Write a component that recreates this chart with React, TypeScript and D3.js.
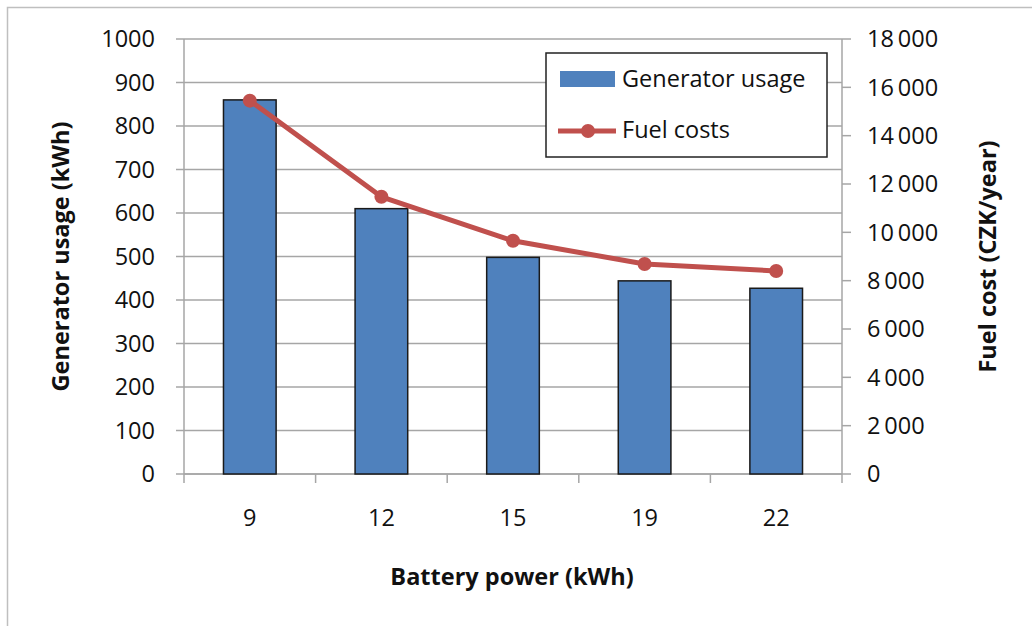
import * as d3 from 'd3';

const BATTERY = ['9', '12', '15', '19', '22'];
const GENERATOR_KWH = [860, 610, 498, 444, 427];
const FUEL_CZK = [15450, 11470, 9650, 8690, 8400];
const LEFT_TICKS = [0, 100, 200, 300, 400, 500, 600, 700, 800, 900, 1000];
const RIGHT_TICKS = [0, 2000, 4000, 6000, 8000, 10000, 12000, 14000, 16000, 18000];

const BAR_COLOR = '#4f81bd';
const LINE_COLOR = '#c0504d';
const GRID = '#a6a6a6';
const FONT = '"Open Sans", sans-serif';
const TICK_SIZE = 23.5;
const TITLE_SIZE = 23.5;

const W = 1032;
const H = 626;
const plot = { left: 184, right: 842, top: 39, bottom: 474 };

const fmt = (v: number) => d3.format(',')(v).replace(/,/g, '\u2009');

export default function App() {
  const x = d3.scaleBand<string>()
    .domain(BATTERY)
    .range([plot.left, plot.right])
    .paddingInner(0.6)
    .paddingOuter(0.3);
  const yL = d3.scaleLinear().domain([0, 1000]).range([plot.bottom, plot.top]);
  const yR = d3.scaleLinear().domain([0, 18000]).range([plot.bottom, plot.top]);

  const step = x.step();
  const boundaries = d3.range(BATTERY.length + 1).map(i => plot.left + i * step);

  const line = d3.line<number>()
    .x((_, i) => (x(BATTERY[i]) ?? 0) + x.bandwidth() / 2)
    .y(d => yR(d));

  return (
    <svg width={W} height={H} style={{ position: 'absolute', left: 0, top: 0, background: 'white', fontFamily: FONT }}>
      {/* chart border */}
      <rect x={7.5} y={7.5} width={W + 10} height={H + 10} fill="white" stroke="#bfbfbf" strokeWidth={1.5} />

      {/* gridlines */}
      {LEFT_TICKS.map(t => (
        <line key={t} x1={plot.left} x2={plot.right} y1={yL(t)} y2={yL(t)} stroke={GRID} strokeWidth={1.5} />
      ))}

      {/* axes */}
      <line x1={plot.left} x2={plot.left} y1={plot.top} y2={plot.bottom} stroke={GRID} strokeWidth={1.5} />
      <line x1={plot.right} x2={plot.right} y1={plot.top} y2={plot.bottom} stroke={GRID} strokeWidth={1.5} />
      <line x1={plot.left} x2={plot.right} y1={plot.bottom} y2={plot.bottom} stroke={GRID} strokeWidth={1.5} />

      {LEFT_TICKS.map(t => (
        <g key={t}>
          <line x1={plot.left - 8} x2={plot.left} y1={yL(t)} y2={yL(t)} stroke={GRID} strokeWidth={1.5} />
          <text x={155} y={yL(t)} dy="0.35em" textAnchor="end" fontSize={TICK_SIZE} fill="#111">{t}</text>
        </g>
      ))}
      {RIGHT_TICKS.map(t => (
        <g key={t}>
          <line x1={plot.right} x2={plot.right + 9} y1={yR(t)} y2={yR(t)} stroke={GRID} strokeWidth={1.5} />
          <text x={867} y={yR(t)} dy="0.35em" textAnchor="start" fontSize={TICK_SIZE} fill="#111">{fmt(t)}</text>
        </g>
      ))}
      {boundaries.map((b, i) => (
        <line key={i} x1={b} x2={b} y1={plot.bottom} y2={plot.bottom + 9} stroke={GRID} strokeWidth={1.5} />
      ))}
      {BATTERY.map(c => (
        <text key={c} x={(x(c) ?? 0) + x.bandwidth() / 2} y={518} dy="0.35em" textAnchor="middle" fontSize={TICK_SIZE} fill="#111">{c}</text>
      ))}

      {/* bars */}
      {GENERATOR_KWH.map((v, i) => (
        <rect
          key={i}
          x={x(BATTERY[i])}
          y={yL(v)}
          width={x.bandwidth()}
          height={plot.bottom - yL(v)}
          fill={BAR_COLOR}
          stroke="#1a1a1a"
          strokeWidth={1.5}
        />
      ))}

      {/* fuel cost line */}
      <path d={line(FUEL_CZK) ?? ''} fill="none" stroke={LINE_COLOR} strokeWidth={5} strokeLinejoin="round" />
      {FUEL_CZK.map((v, i) => (
        <circle key={i} cx={(x(BATTERY[i]) ?? 0) + x.bandwidth() / 2} cy={yR(v)} r={7} fill={LINE_COLOR} />
      ))}

      {/* axis titles */}
      <text x={512} y={577} dy="0.35em" textAnchor="middle" fontSize={TITLE_SIZE} fontWeight={700} fill="#111">Battery power (kWh)</text>
      <text transform={`translate(61,${(plot.top + plot.bottom) / 2}) rotate(-90)`} dy="0.35em" textAnchor="middle" fontSize={TITLE_SIZE} fontWeight={700} fill="#111">Generator usage (kWh)</text>
      <text transform={`translate(988,${(plot.top + plot.bottom) / 2}) rotate(-90)`} dy="0.35em" textAnchor="middle" fontSize={TITLE_SIZE} fontWeight={700} fill="#111">Fuel cost (CZK/year)</text>

      {/* legend */}
      <g>
        <rect x={546} y={53} width={281} height={104} fill="white" stroke="#222" strokeWidth={1.5} />
        <rect x={560} y={71} width={55} height={16} fill={BAR_COLOR} />
        <text x={622} y={79} dy="0.35em" fontSize={TICK_SIZE} fill="#111">Generator usage</text>
        <line x1={558} x2={616} y1={131} y2={131} stroke={LINE_COLOR} strokeWidth={5} />
        <circle cx={588} cy={131} r={7} fill={LINE_COLOR} />
        <text x={622} y={130} dy="0.35em" fontSize={TICK_SIZE} fill="#111">Fuel costs</text>
      </g>
    </svg>
  );
}
